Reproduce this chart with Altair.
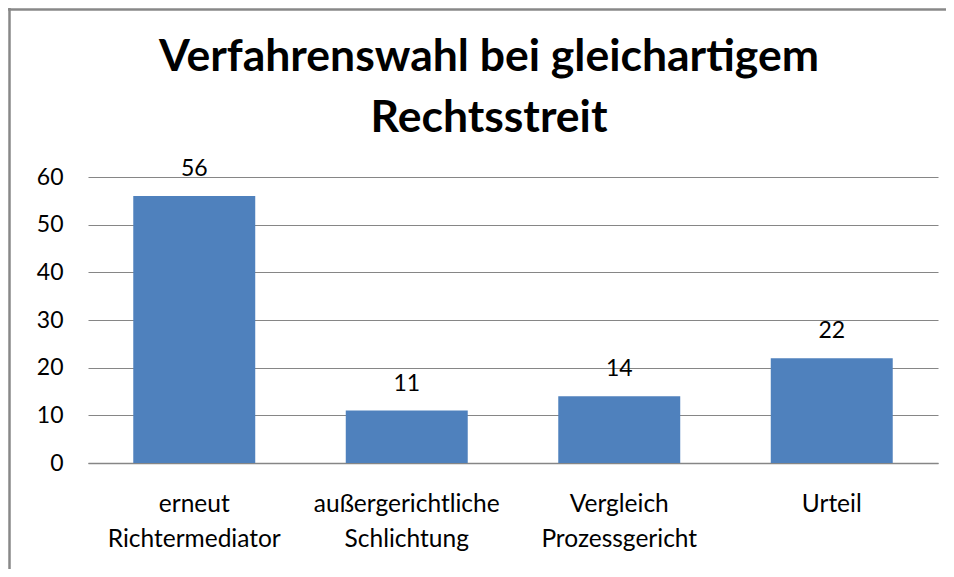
import altair as alt
import pandas as pd

categories = ["erneut|Richtermediator", "außergerichtliche|Schlichtung",
              "Vergleich|Prozessgericht", "Urteil"]
values = [56, 11, 14, 22]
y_ticks = [0, 10, 20, 30, 40, 50, 60]
title_lines = ["Verfahrenswahl bei gleichartigem", "Rechtsstreit"]

df = pd.DataFrame({"cat": categories, "val": values})

FONT = "Lato"
W, H = 850, 286
PL, PT = 80, 169
PR = 938 - PL - W
PB = 561 - PT - H

x = alt.X("cat:N", sort=categories, title=None,
          scale=alt.Scale(paddingInner=0.426, paddingOuter=0.213),
          axis=alt.Axis(labelAngle=0, labelExpr="split(datum.label, '|')",
                        labelFont=FONT, labelFontSize=24.5, labelColor="#000000",
                        labelLineHeight=35, labelPadding=29, labelLimit=0, ticks=False,
                        domainColor="#868686", domainWidth=1.5, grid=False))
y = alt.Y("val:Q", title=None,
          scale=alt.Scale(domain=[0, 60], nice=False),
          axis=alt.Axis(values=y_ticks, labelFont=FONT, labelFontSize=23,
                        labelColor="#000000", labelPadding=25, ticks=False,
                        domain=False, gridColor="#868686", gridWidth=1.2))

bars = alt.Chart(df).mark_bar(color="#4F81BD").encode(x=x, y=y)
labels = alt.Chart(df).mark_text(font=FONT, fontSize=23, color="#000000",
                                 baseline="alphabetic", dy=-20).encode(
    x=alt.X("cat:N", sort=categories), y="val:Q", text="val:Q")

border_top = alt.Chart(df.head(1)).mark_rule(color="#888888", strokeWidth=2.5).encode(
    x=alt.value(-PL), x2=alt.value(W + PR + 20), y=alt.value(-PT + 1.5))
border_left = alt.Chart(df.head(1)).mark_rule(color="#888888", strokeWidth=2.5).encode(
    x=alt.value(-PL + 1.5), y=alt.value(-PT), y2=alt.value(H + PB + 20))

chart = alt.layer(bars, labels, border_top, border_left).properties(
    width=W, height=H,
    autosize=alt.AutoSizeParams(type="none"),
    padding={"left": PL, "top": PT, "right": PR, "bottom": PB},
    title=alt.TitleParams(title_lines, font=FONT, fontSize=44.5, fontWeight="bold",
                          color="#000000", anchor="middle", frame="group",
                          dx=-24, offset=-135, lineHeight=61),
).configure_view(stroke=None)

chart.save("out.html", embed_options={"renderer": "svg", "actions": False})
